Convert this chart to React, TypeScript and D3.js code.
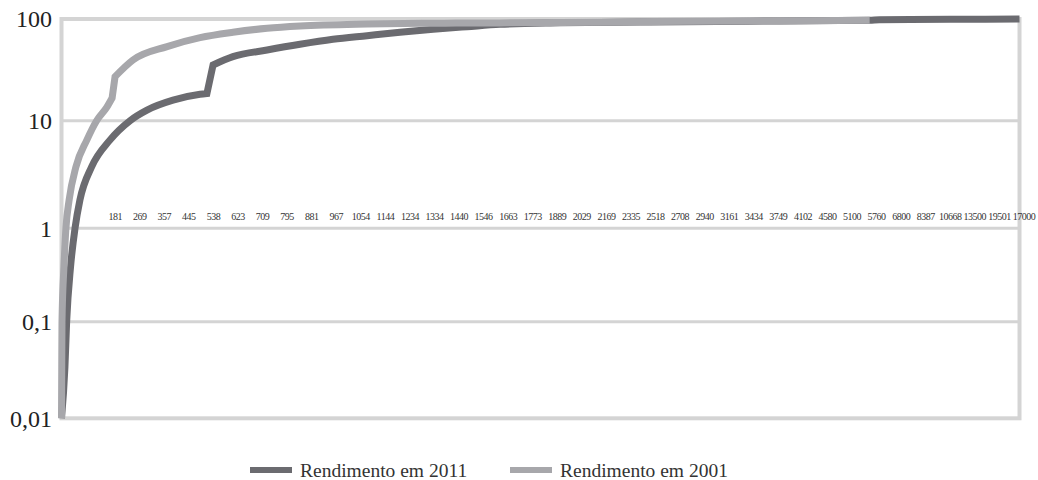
import * as d3 from 'd3'

// categorias (rendimento, R$) – as duas primeiras posições ficam sem rótulo
const categoryCount = 40
const firstLabelIndex = 2
const incomeLabels = [
  '181', '269', '357', '445', '538', '623', '709', '795', '881', '967',
  '1054', '1144', '1234', '1334', '1440', '1546', '1663', '1773', '1889', '2029',
  '2169', '2335', '2518', '2708', '2940', '3161', '3434', '3749', '4102', '4580',
  '5100', '5760', '6800', '8387', '10668', '13500', '19501', '17000',
]

const yTicks = [0.01, 0.1, 1, 10, 100]
const yTickLabels = ['0,01', '0,1', '1', '10', '100']

// [posição na categoria, % acumulado]
const rendimento2011: [number, number][] = [
  [0, 0.01], [0.14, 0.034], [0.21, 0.1], [0.37, 0.39], [0.55, 1], [0.75, 1.83],
  [1.23, 3.74], [1.97, 6.6], [2.79, 10], [3.48, 12.7], [4.54, 15.9],
  [5.64, 18.2], [5.92, 18.5], [6.17, 35.3], [6.98, 42.6], [8.37, 49.5], [9.71, 56.4],
  [11.05, 63.1], [12.44, 68.5], [13.78, 74], [15.13, 79.2], [16.51, 84], [17.85, 88.7],
  [20.3, 91.6], [24, 93.6], [28, 95.3], [32.9, 97], [33.3, 98.3], [36.2, 99.2], [39, 100],
]

const rendimento2001: [number, number][] = [
  [0, 0.01], [0.01, 0.034], [0.02, 0.1], [0.1, 0.39], [0.18, 1], [0.31, 1.83],
  [0.59, 3.74], [1.03, 6.6], [1.43, 10], [1.84, 13.5], [2.06, 16.7], [2.18, 27.1],
  [2.91, 39.5], [4.3, 53.5], [5.64, 65.5], [6.98, 74], [8.37, 81.1], [9.71, 85.4],
  [12.44, 89.3], [15.13, 90.8], [17.85, 91.5], [20.3, 92.3], [23.55, 94], [28, 95.6],
  [32.9, 97.1],
]

// salto no salário mínimo: índice do ponto onde a curva sobe em degrau
const series = [
  { name: 'Rendimento em 2011', data: rendimento2011, color: '#6b6b70', jump: 12 },
  { name: 'Rendimento em 2001', data: rendimento2001, color: '#a7a7ab', jump: 10 },
]

const W = 1038
const H = 480
const left = 61.5
const right = 1019.5
const grid = '#d4d4d4'
const font = "'Liberation Serif', 'Times New Roman', Times, serif"

export default function App() {
  const x = d3.scaleLinear().domain([0, categoryCount - 1]).range([left, right])
  // as linhas de grade do original não são equidistantes
  const y = d3.scaleLog().domain(yTicks).range([418.3, 321.7, 228.3, 120.7, 19])

  const line = d3
    .line<[number, number]>()
    .x((d) => x(d[0]))
    .y((d) => y(d[1]))
    .curve(d3.curveMonotoneX)

  // trecho suave antes do degrau, segmento reto no degrau, trecho suave depois
  const pathFor = (data: [number, number][], jump: number) => {
    const a = line(data.slice(0, jump + 1)) ?? ''
    const b = (line(data.slice(jump + 1)) ?? '').replace(/^M/, 'L')
    return a + b
  }

  const legendX = [250, 510]

  return (
    <svg
      width={W}
      height={H}
      style={{ position: 'absolute', left: 0, top: 0, background: '#fff', fontFamily: font }}
    >
      {yTicks.slice(1, -1).map((t) => (
        <line key={t} x1={left} x2={right} y1={y(t)} y2={y(t)} stroke={grid} strokeWidth={3} />
      ))}
      <rect x={left} y={y(100)} width={right - left} height={y(0.01) - y(100)} fill="none" stroke={grid} strokeWidth={4} />

      {yTicks.map((t, i) => (
        <text key={t} x={52} y={y(t)} dy="0.35em" textAnchor="end" fontSize={24} fill="#222">
          {yTickLabels[i]}
        </text>
      ))}

      {incomeLabels.map((l, i) => (
        <text
          key={l + i}
          x={x(i + firstLabelIndex) + 4.5}
          y={y(1) - 8}
          textAnchor="middle"
          fontSize={10}
          letterSpacing={-0.5}
          fill="#333"
        >
          {l}
        </text>
      ))}

      {series.map((s) => (
        <path key={s.name} d={pathFor(s.data, s.jump)} fill="none" stroke={s.color} strokeWidth={7} strokeLinejoin="miter" />
      ))}

      {series.map((s, i) => (
        <g key={s.name} transform={`translate(${legendX[i]},470)`}>
          <line x1={0} x2={42} y1={0} y2={0} stroke={s.color} strokeWidth={6} />
          <text x={50} y={7} fontSize={19.5} fill="#333">
            {s.name}
          </text>
        </g>
      ))}
    </svg>
  )
}
